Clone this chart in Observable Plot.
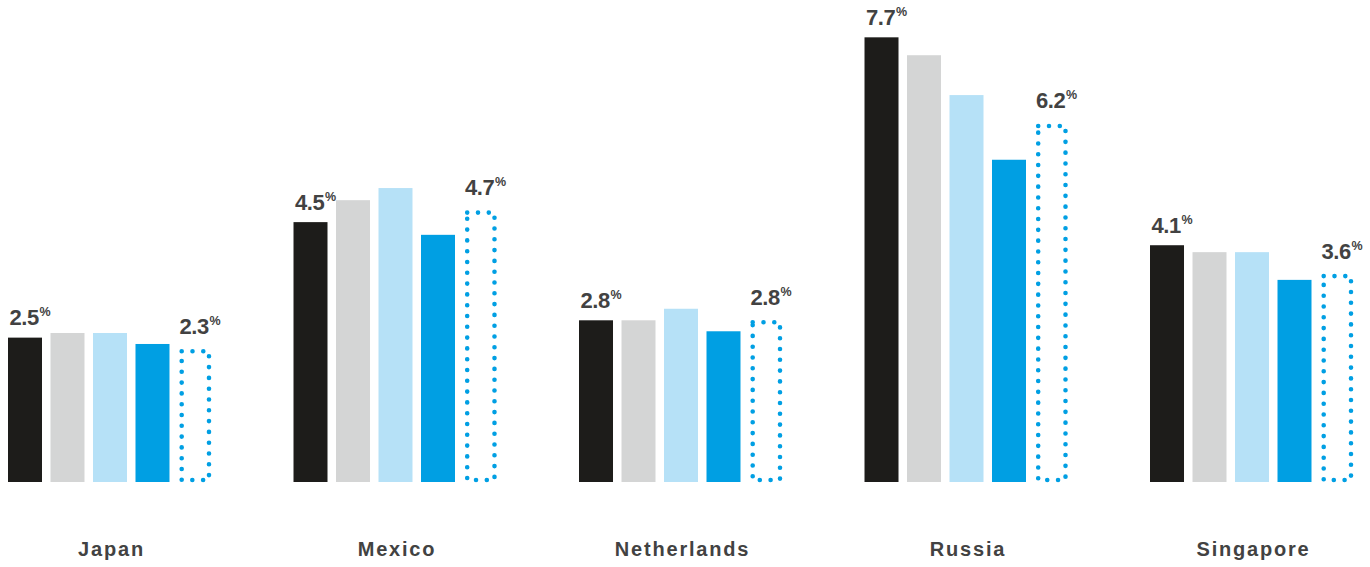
<!DOCTYPE html>
<html>
<head>
<meta charset="utf-8">
<script src="https://cdn.jsdelivr.net/npm/d3@7"></script>
<script src="https://cdn.jsdelivr.net/npm/@observablehq/plot@0.6"></script>
<style>
  html, body { margin: 0; padding: 0; background: #fff; }
  #chart svg { display: block; }
  g[font-size="20"] text { letter-spacing: 1.8px; }
  g[font-size="22"] text { letter-spacing: -0.4px; }
</style>
</head>
<body>
<div id="chart"></div>
<script>
const countries = ["Japan", "Mexico", "Netherlands", "Russia", "Singapore"];
const series = ["Series 1", "Series 2", "Series 3", "Series 4", "Series 5"];
const series1 = [2.5, 4.5, 2.8, 7.7, 4.1];
const series2 = [2.58, 4.88, 2.8, 7.39, 3.98];
const series3 = [2.58, 5.09, 3.0, 6.7, 3.98];
const series4 = [2.39, 4.28, 2.61, 5.58, 3.5];
const series5 = [2.3, 4.7, 2.8, 6.2, 3.6];
const labelledSeries = ["Series 1", "Series 5"];

const colors = ["#1d1c1a", "#d4d5d5", "#b6e1f7", "#009fe3", "#009fe3"];

const allSeries = [series1, series2, series3, series4, series5];
const rows = [];
countries.forEach((c, i) => {
  series.forEach((s, j) => rows.push({country: c, series: s, value: allSeries[j][i]}));
});
const solid = rows.filter(d => d.series !== series[4]);
const dotted = rows.filter(d => d.series === series[4]);
const firstLabels = rows.filter(d => d.series === labelledSeries[0]);
const lastLabels = rows.filter(d => d.series === labelledSeries[1]);

const labelFont = {fontFamily: "Liberation Sans, Arial, sans-serif", fontWeight: "bold", fill: "#424242"};

function valueLabels(data, dyBase) {
  return [
    Plot.text(data, {fx: "country", x: "series", y: "value", text: d => d.value.toFixed(1),
      textAnchor: "start", lineAnchor: "bottom", dx: -16, dy: dyBase, fontSize: 22, ...labelFont}),
    Plot.text(data, {fx: "country", x: "series", y: "value", text: () => "%",
      textAnchor: "start", lineAnchor: "bottom", dx: 14, dy: dyBase - 9, fontSize: 12.5, ...labelFont})
  ];
}

const chart = Plot.plot({
  width: 1370,
  height: 567,
  marginTop: 20,
  marginBottom: 85,
  marginLeft: 8,
  marginRight: 16,
  fx: {domain: countries, paddingInner: 0.2855, paddingOuter: 0, round: false, axis: null, label: null},
  x: {domain: series, paddingInner: 0.2, paddingOuter: 0, round: false, axis: null, label: null},
  y: {domain: [0, 8], axis: null, label: null},
  color: {domain: series, range: colors},
  marks: [
    Plot.barY(solid, {fx: "country", x: "series", y: "value", fill: "series"}),
    Plot.barY(dotted, {fx: "country", x: "series", y: "value", fill: "none",
      stroke: colors[4], strokeWidth: 4.6, strokeDasharray: "0 10.8", strokeLinecap: "round",
      insetLeft: 3.7, insetRight: 3, insetTop: 2, insetBottom: 2}),
    ...valueLabels(firstLabels, -13),
    ...valueLabels(lastLabels, -16),
    Plot.text(countries, {fx: d => d, text: d => d, frameAnchor: "bottom", lineAnchor: "top",
      dy: 59, dx: 1, fontSize: 20, ...labelFont})
  ]
});
document.getElementById("chart").appendChild(chart);
</script>
</body>
</html>
